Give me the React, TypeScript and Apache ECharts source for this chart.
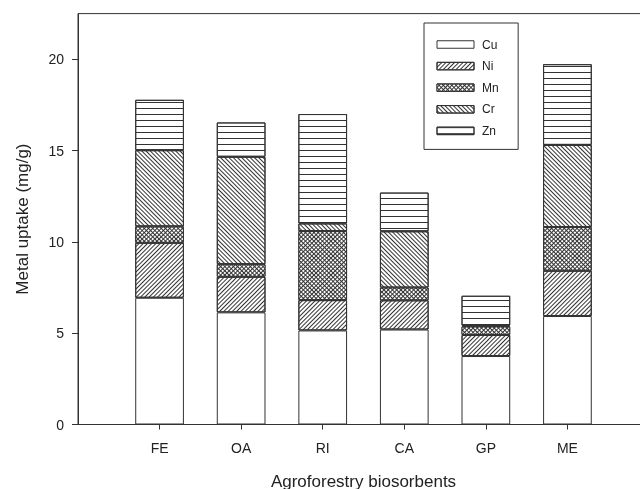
import React, { useEffect, useRef } from "react";
import * as echarts from "echarts";

const categories = ["FE", "OA", "RI", "CA", "GP", "ME"];
const seriesNames = ["Cu", "Ni", "Mn", "Cr", "Zn"];
const cuValues = [6.94, 6.14, 5.15, 5.2, 3.75, 5.94];
const niValues = [3.01, 1.95, 1.66, 1.6, 1.15, 2.48];
const mnValues = [0.9, 0.69, 3.78, 0.7, 0.47, 2.39];
const crValues = [4.17, 5.88, 0.42, 3.08, 0.05, 4.5];
const znValues = [2.76, 1.88, 5.99, 2.12, 1.63, 4.42];
const yTicks = [0, 5, 10, 15, 20];

const FONT = "Liberation Sans, Arial, sans-serif";
const INK = "#333";

export default function App() {
  const ref = useRef<HTMLDivElement>(null);
  useEffect(() => {
    document.body.style.margin = "0";
    const chart = echarts.init(ref.current!, undefined, { renderer: "svg" });
    const values = [cuValues, niValues, mnValues, crValues, znValues];
    // padded category list: empty slot at each end so the first bar sits one step from the y axis
    const xData = [" ", ...categories, "  "];
    const styles: any[] = [
      { color: "#fff" },
      {
        color: "#fff",
        decal: { symbol: "rect", color: INK, dashArrayX: [1, 0], dashArrayY: [1, 2], rotation: -Math.PI / 4, symbolSize: 1 },
      },
      {
        color: INK,
        decal: { symbol: "rect", color: "#fff", dashArrayX: [2, 1], dashArrayY: [2, 1], rotation: Math.PI / 4, symbolSize: 1 },
      },
      {
        color: "#fff",
        decal: { symbol: "rect", color: INK, dashArrayX: [1, 0], dashArrayY: [1, 2], rotation: Math.PI / 4, symbolSize: 1 },
      },
      {
        color: "#fff",
        decal: { symbol: "rect", color: INK, dashArrayX: [1, 0], dashArrayY: [1, 5], rotation: 0, symbolSize: 1 },
      },
    ];
    const inRange = (i: number) => i >= 1 && i <= categories.length;
    chart.setOption({
      animation: false,
      textStyle: { fontFamily: FONT },
      grid: {
        left: 78,
        top: 13.6,
        width: 571,
        height: 410.9,
        outerBoundsMode: "none",
        containLabel: false,
        show: true,
        borderColor: INK,
        borderWidth: 1,
        backgroundColor: "transparent",
      },
      legend: {
        orient: "vertical",
        left: 424,
        top: 23,
        icon: "rect",
        itemWidth: 37,
        itemHeight: 7.5,
        itemGap: 9.6,
        padding: [15.5, 19.5, 12.5, 12.5],
        borderColor: INK,
        borderWidth: 1,
        itemStyle: { borderWidth: 1, borderColor: INK },
        data: seriesNames,
        textStyle: { fontFamily: FONT, fontSize: 12, color: "#222", padding: [0, 0, 0, 3] },
      },
      xAxis: {
        type: "category",
        boundaryGap: false,
        data: xData,
        name: "Agroforestry biosorbents",
        nameLocation: "middle",
        nameGap: 48,
        nameTextStyle: { fontFamily: FONT, fontSize: 17, color: "#222" },
        splitLine: { show: false },
        axisLine: { show: true, lineStyle: { color: INK, width: 1 } },
        axisTick: {
          show: true,
          inside: false,
          length: 5,
          interval: (i: number) => inRange(i),
          lineStyle: { color: INK, width: 1 },
        },
        axisLabel: {
          interval: (i: number) => inRange(i),
          margin: 16,
          fontSize: 14,
          color: "#222",
          fontFamily: FONT,
        },
      },
      yAxis: {
        type: "value",
        min: 0,
        max: 22.5,
        interval: 5,
        name: "Metal uptake (mg/g)",
        nameLocation: "middle",
        nameGap: 47,
        nameTextStyle: { fontFamily: FONT, fontSize: 17, color: "#222" },
        splitLine: { show: false },
        axisLine: { show: true, lineStyle: { color: INK, width: 1 } },
        axisTick: { show: true, length: 6, customValues: yTicks, lineStyle: { color: INK } },
        axisLabel: { customValues: yTicks, margin: 14, fontSize: 14, color: "#222", fontFamily: FONT },
      },
      series: seriesNames.map((name, si) => ({
        name,
        type: "bar",
        stack: "total",
        barWidth: 48.7,
        itemStyle: { ...styles[si], borderColor: INK, borderWidth: 1 },
        emphasis: { disabled: true },
        data: [null, ...values[si], null],
      })),
    });
    return () => chart.dispose();
  }, []);
  return <div ref={ref} style={{ position: "fixed", left: 0, top: 0, width: 640, height: 489 }} />;
}
